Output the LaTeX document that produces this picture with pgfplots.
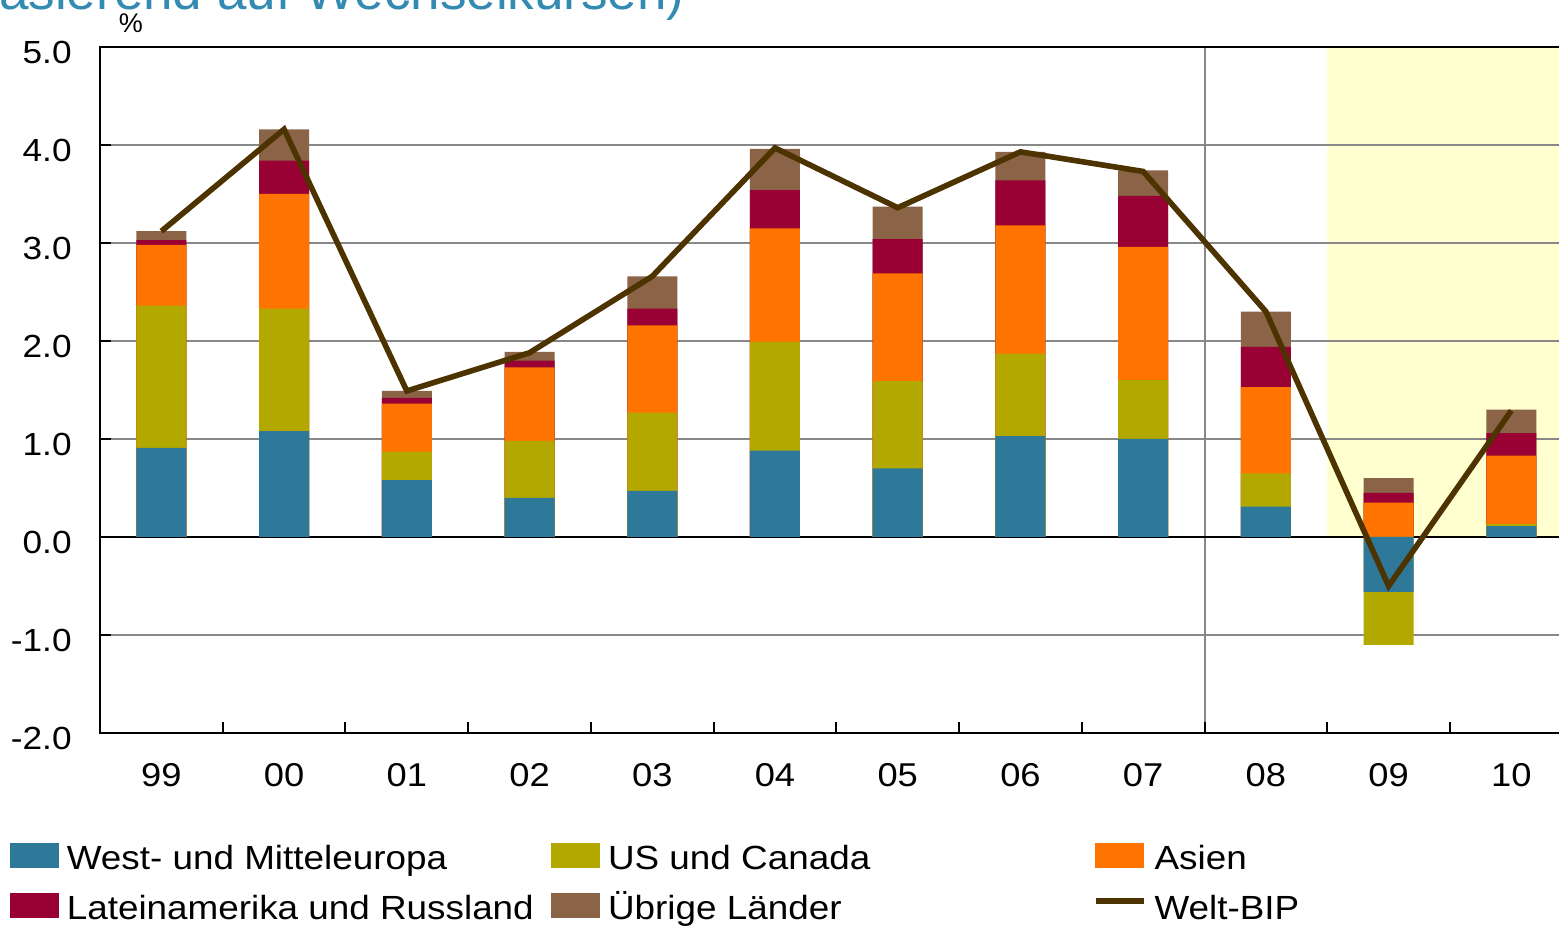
\documentclass[border=0pt]{standalone}
\usepackage{fontspec}
\setmainfont{Liberation Sans}
\usepackage{graphicx}
\usepackage{pgfplots}
\usepackage{pgfplotstable}
\pgfplotsset{compat=1.18}

\definecolor{cWest}{RGB}{46,120,153}
\definecolor{cUS}{RGB}{179,168,0}
\definecolor{cAsia}{RGB}{255,116,0}
\definecolor{cLat}{RGB}{153,0,51}
\definecolor{cRest}{RGB}{139,99,71}
\definecolor{cLine}{RGB}{77,51,0}
\definecolor{cGrid}{RGB}{136,136,136}
\definecolor{cShade}{RGB}{255,255,208}
\definecolor{cTitle}{RGB}{52,139,178}

% cumulative tops of each stacked segment (West, +US, +Asien, +Lateinamerika, +Uebrige)
% year 09: West and US are negative and stack downwards from zero
\pgfplotstableread{
x  W     US    AS    LA    UB    BIP
0  0.91  2.36  2.98  3.03  3.12  3.12
1  1.08  2.33  3.50  3.84  4.16  4.16
2  0.58  0.87  1.36  1.42  1.49  1.49
3  0.40  0.98  1.73  1.80  1.89  1.88
4  0.47  1.27  2.16  2.33  2.66  2.66
5  0.88  1.99  3.15  3.54  3.96  3.97
6  0.70  1.59  2.69  3.04  3.37  3.36
7  1.03  1.87  3.18  3.64  3.93  3.93
8  1.00  1.60  2.96  3.48  3.74  3.73
9  0.31  0.65  1.53  1.94  2.30  2.30
10 -0.56 -1.10 0.35  0.45  0.60  -0.50
11 0.11  0.13  0.83  1.06  1.30  1.29
}\data

\newcommand\sx[1]{\scalebox{1.1}[1]{#1}}
\newcommand\LE[1]{\makebox[238.25pt][l]{\vphantom{Wp}\smash{\sx{#1}}}}

\begin{document}
\begin{tikzpicture}
\begin{axis}[
  set layers,
  at={(50pt,98pt)}, anchor=south west,
  scale only axis, width=736.35pt, height=343pt,
  xmin=-0.5, xmax=11.5, ymin=-2, ymax=5,
  axis line style={black, line width=1pt},
  xtick={0,...,11},
  xticklabels={\sx{99},\sx{00},\sx{01},\sx{02},\sx{03},\sx{04},\sx{05},\sx{06},\sx{07},\sx{08},\sx{09},\sx{10}},
  minor xtick={0.5,1.5,...,10.5},
  xtick pos=bottom, ytick pos=left,
  tick align=inside,
  major x tick style={draw=none},
  major tick length=5.5pt, minor tick length=5.5pt,
  every tick/.style={black, line width=1pt},
  ytick={-2,-1,0,1,2,3,4,5},
  yticklabels={\sx{-2.0},\sx{-1.0},\sx{0.0},\sx{1.0},\sx{2.0},\sx{3.0},\sx{4.0},\sx{5.0}},
  ymajorgrids,
  major grid style={cGrid, line width=0.9pt},
  extra x ticks={8.5}, extra x tick labels={},
  extra x tick style={grid=major, major grid style={cGrid, line width=1pt}, major x tick style={draw=none}},
  extra y ticks={0}, extra y tick labels={},
  extra y tick style={grid=major, major grid style={black, line width=1pt}},
  xticklabel style={font=\fontsize{16.5}{19}\selectfont, anchor=north, inner sep=0pt, yshift=-15pt},
  yticklabel style={font=\fontsize{16}{19}\selectfont, anchor=east, inner sep=0pt, xshift=-14pt, yshift=-2.5pt},
  legend columns=3,
  legend cell align=left,
  legend style={draw=none, fill=none, inner sep=0pt, outer sep=0pt,
    at={(axis description cs:-0.06111,-0.1604)}, anchor=north west,
    font=\fontsize{16.75}{19}\selectfont,
    column sep=4pt, row sep=10.5pt,
    nodes={inner sep=0pt}},
]
\addplot[fill=cShade, draw=none, on layer=axis background, forget plot]
  coordinates {(9.5,-2) (9.5,5) (11.5,5) (11.5,-2)} \closedcycle;

\addplot[ybar, bar width=25pt, bar shift=0pt, fill=cRest, draw=none, forget plot] table[x=x, y=UB] {\data};
\addplot[ybar, bar width=25pt, bar shift=0pt, fill=cLat,  draw=none, forget plot] table[x=x, y=LA] {\data};
\addplot[ybar, bar width=25pt, bar shift=0pt, fill=cAsia, draw=none, forget plot] table[x=x, y=AS] {\data};
\addplot[ybar, bar width=25pt, bar shift=0pt, fill=cUS,   draw=none, forget plot] table[x=x, y=US] {\data};
\addplot[ybar, bar width=25pt, bar shift=0pt, fill=cWest, draw=none, forget plot] table[x=x, y=W] {\data};
\addplot[cLine, line width=2.8pt, mark=none, forget plot] table[x=x, y=BIP] {\data};

\addlegendimage{legend image code/.code={\fill[cWest] (0pt,-4.15pt) rectangle (24pt,7.85pt);}}
\addlegendentry{\LE{West- und Mitteleuropa}}
\addlegendimage{legend image code/.code={\fill[cUS] (0pt,-4.15pt) rectangle (24pt,7.85pt);}}
\addlegendentry{\LE{US und Canada}}
\addlegendimage{legend image code/.code={\fill[cAsia] (0pt,-4.15pt) rectangle (24pt,7.85pt);}}
\addlegendentry{\LE{Asien}}
\addlegendimage{legend image code/.code={\fill[cLat] (0pt,-4.15pt) rectangle (24pt,7.85pt);}}
\addlegendentry{\LE{Lateinamerika und Russland}}
\addlegendimage{legend image code/.code={\fill[cRest] (0pt,-4.15pt) rectangle (24pt,7.85pt);}}
\addlegendentry{\LE{Übrige Länder}}
\addlegendimage{legend image code/.code={\draw[cLine, line width=3pt] (0pt,4.05pt) -- (24pt,4.05pt); \path[draw=none, fill=none] (0pt,-4.15pt) rectangle (24pt,7.85pt);}}
\addlegendentry{\LE{Welt-BIP}}
\end{axis}
\node[anchor=base east, inner sep=0pt, text=cTitle, font=\fontsize{26.5}{30}\selectfont] at (342.5pt,459.5pt) {(basierend auf Wechselkursen)};
\node[anchor=center, inner sep=0pt, font=\fontsize{13.5}{16}\selectfont] at (65.5pt,453pt) {\%};
\pgfresetboundingbox
\useasboundingbox (0pt,0pt) rectangle (779.5pt,464.5pt);
\end{tikzpicture}
\end{document}
